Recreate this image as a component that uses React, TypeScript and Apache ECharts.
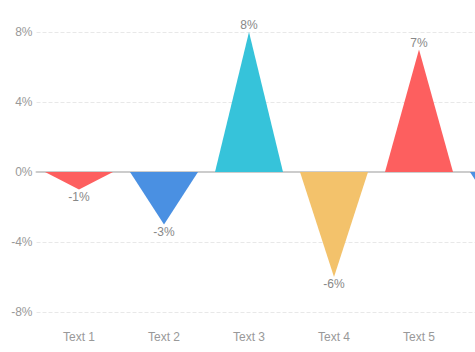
import React, { useEffect, useRef } from "react";
import * as echarts from "echarts";

const categories = ["Text 1", "Text 2", "Text 3", "Text 4", "Text 5", "Text 6"];
const values = [-1, -3, 8, -6, 7, -3];
const colors = ["#FD5F5F", "#4A90E2", "#36C3DA", "#F3C26B"];
const yTicks = { min: -8, max: 8, interval: 4 };

export default function App() {
  const ref = useRef<HTMLDivElement>(null);
  useEffect(() => {
    if (!ref.current) return;
    const body = document.body;
    const prevOverflow = body.style.overflow;
    const prevMarginRight = body.style.marginRight;
    body.style.overflow = "hidden";
    body.style.marginRight = "0px";
    const chart = echarts.init(ref.current, undefined, { renderer: "svg" });
    chart.setOption({
      animation: false,
      grid: { left: 28.5, top: 24, width: 510, height: 280 },
      xAxis: [
        {
          type: "category",
          data: categories,
          axisLine: { show: false, onZero: false },
          axisTick: { show: false },
          axisLabel: { color: "#999", fontSize: 12, margin: 19, fontFamily: "Arial, Liberation Sans, sans-serif" },
        },
        {
          type: "category",
          data: categories,
          position: "bottom",
          axisLine: { show: true, onZero: true, lineStyle: { color: "#ccc", width: 2 } },
          axisTick: { show: false },
          axisLabel: { show: false },
        },
      ],
      yAxis: {
        type: "value",
        min: yTicks.min,
        max: yTicks.max,
        interval: yTicks.interval,
        axisLine: { show: false },
        axisTick: { show: false },
        axisLabel: {
          color: "#999",
          fontSize: 12,
          margin: 4,
          formatter: "{value}%",
          fontFamily: "Arial, Liberation Sans, sans-serif",
        },
        splitLine: { lineStyle: { color: "#e8e8e8", type: "dashed" } },
      },
      series: [
        {
          type: "custom",
          xAxisIndex: 0,
          data: values.map((v, i) => [i, v]),
          renderItem: (params: any, api: any) => {
            const idx = api.value(0);
            const v = api.value(1);
            const base = api.coord([idx, 0]);
            const tip = api.coord([idx, v]);
            const w = api.size([1, 0])[0] * 0.8;
            const color = colors[params.dataIndex % colors.length];
            const pos = v >= 0;
            return {
              type: "group",
              children: [
                {
                  type: "polygon",
                  shape: {
                    points: [
                      [base[0] - w / 2, base[1]],
                      [base[0] + w / 2, base[1]],
                      [tip[0], tip[1]],
                    ],
                  },
                  style: { fill: color },
                },
                {
                  type: "text",
                  x: tip[0],
                  y: pos ? tip[1] - 1 : tip[1] + 1,
                  style: {
                    text: v + "%",
                    fill: "#888",
                    fontSize: 12,
                    fontFamily: "Arial, Liberation Sans, sans-serif",
                    align: "center",
                    verticalAlign: pos ? "bottom" : "top",
                  },
                },
              ],
            };
          },
        },
      ],
    });
    return () => {
      chart.dispose();
      body.style.overflow = prevOverflow;
      body.style.marginRight = prevMarginRight;
    };
  }, []);
  return <div ref={ref} style={{ width: 560, height: 344 }} />;
}
